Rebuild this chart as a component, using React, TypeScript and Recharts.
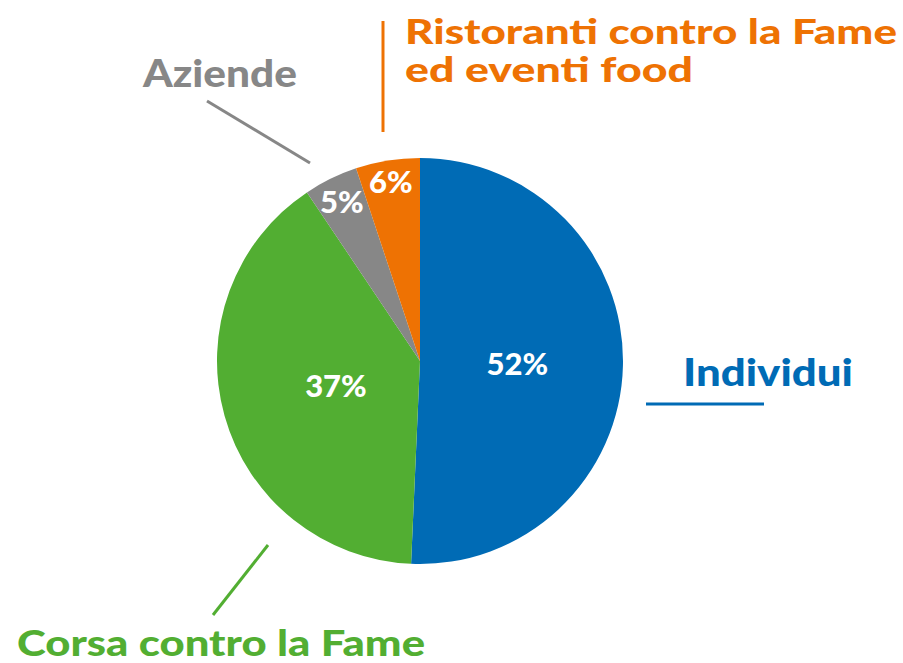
import { PieChart, Pie, Cell } from "recharts";

const CATEGORIES = ["Individui", "Corsa contro la Fame", "Aziende", "Ristoranti contro la Fame ed eventi food"];
const VALUES = [50.7, 39.9, 4.3, 5.1];
const PERCENT_LABELS = ["52%", "37%", "5%", "6%"];
const COLORS = ["#006bb5", "#52ae32", "#878787", "#ee7203"];

const data = CATEGORIES.map((name, i) => ({ name, value: VALUES[i] }));

// how far out (fraction of radius) each percentage sits
const LABEL_RADIUS = [0.48, 0.43, 0.875, 0.9];
const RADIAN = Math.PI / 180;
const FONT = "Lato, 'Open Sans', sans-serif";

const renderLabel = (props: any) => {
    const { cx, cy, midAngle, outerRadius, index } = props;
    const r = outerRadius * LABEL_RADIUS[index];
    const x = cx + r * Math.cos(-midAngle * RADIAN);
    const y = cy + r * Math.sin(-midAngle * RADIAN);
    return (
        <text
            x={x}
            y={y}
            fill="#ffffff"
            textAnchor="middle"
            dominantBaseline="central"
            fontSize={31}
            fontWeight={900}
            fontFamily={FONT}
        >
            {PERCENT_LABELS[index]}
        </text>
    );
};

const Callouts = () => (
    <svg width={903} height={663} style={{ position: "absolute", left: 0, top: 0, pointerEvents: "none" }}>
        <g fontFamily={FONT} fontWeight={900} fontSize={38}>
            {/* Individui */}
            <text x={683} y={386} fill={COLORS[0]} textLength={170} lengthAdjust="spacingAndGlyphs">Individui</text>
            <line x1={646} y1={404} x2={764} y2={404} stroke={COLORS[0]} strokeWidth={3} />
            {/* Corsa */}
            <text x={17} y={656} fontSize={36} fill={COLORS[1]} textLength={408} lengthAdjust="spacingAndGlyphs">Corsa contro la Fame</text>
            <line x1={268} y1={545} x2={213} y2={615} stroke={COLORS[1]} strokeWidth={3} />
            {/* Aziende */}
            <text x={143} y={87} fill={COLORS[2]} textLength={154} lengthAdjust="spacingAndGlyphs">Aziende</text>
            <line x1={207} y1={101} x2={310} y2={163} stroke={COLORS[2]} strokeWidth={3} />
            {/* Ristoranti */}
            <text x={405} y={44} fontSize={34} fill={COLORS[3]} textLength={492} lengthAdjust="spacingAndGlyphs">Ristoranti contro la Fame</text>
            <text x={405} y={82} fontSize={34} fill={COLORS[3]} textLength={288} lengthAdjust="spacingAndGlyphs">ed eventi food</text>
            <line x1={383} y1={21} x2={383} y2={132} stroke={COLORS[3]} strokeWidth={3} />
        </g>
    </svg>
);

export default function App() {
    return (
        <div style={{ position: "fixed", left: 0, top: 0, width: 903, height: 663, background: "#ffffff", overflow: "hidden" }}>
            <PieChart width={903} height={663} margin={{ top: 0, right: 0, bottom: 0, left: 0 }}>
                <Pie
                    data={data}
                    dataKey="value"
                    nameKey="name"
                    cx={420}
                    cy={361}
                    outerRadius={203}
                    startAngle={90}
                    endAngle={-270}
                    stroke="none"
                    label={renderLabel}
                    labelLine={false}
                    isAnimationActive={false}
                >
                    {data.map((_, i) => (
                        <Cell key={`cell-${i}`} fill={COLORS[i]} />
                    ))}
                </Pie>
            </PieChart>
            <Callouts />
        </div>
    );
}
